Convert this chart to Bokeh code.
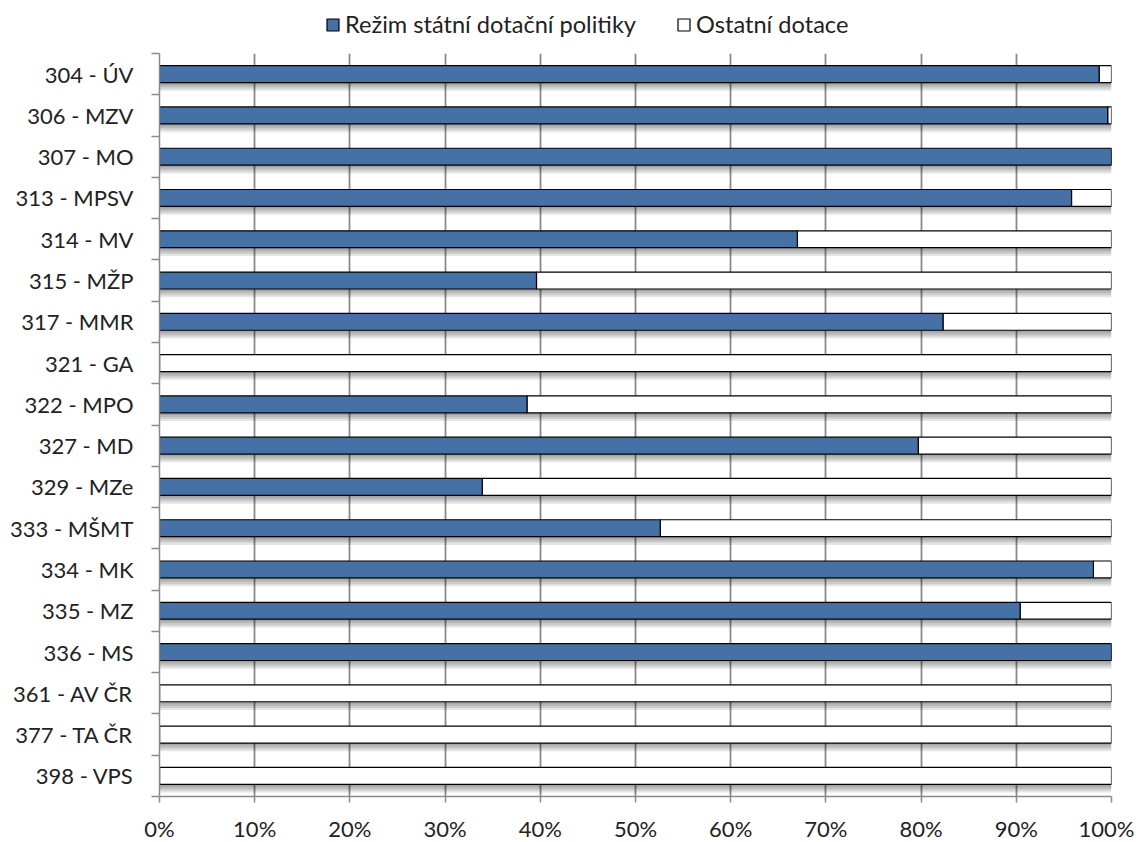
from bokeh.plotting import figure
from bokeh.layouts import column
from bokeh.models import (ColumnDataSource, Range1d, FixedTicker, Legend, LegendItem,
                          PrintfTickFormatter)
from bokeh.transform import dodge
from bokeh.embed import file_html
from bokeh.resources import INLINE

categories = ["304 - ÚV", "306 - MZV", "307 - MO", "313 - MPSV", "314 - MV", "315 - MŽP",
              "317 - MMR", "321 - GA", "322 - MPO", "327 - MD", "329 - MZe", "333 - MŠMT",
              "334 - MK", "335 - MZ", "336 - MS", "361 - AV ČR", "377 - TA ČR", "398 - VPS"]
state_pct = [98.7, 99.6, 100.0, 95.8, 67.0, 39.6, 82.3, 0.0, 38.6, 79.7, 33.9, 52.6,
             98.1, 90.4, 100.0, 0.0, 0.0, 0.0]
series_names = ["Režim státní dotační politiky", "Ostatní dotace"]
series_colors = ["#4571A7", "#FFFFFF"]
x_ticks = [0, 10, 20, 30, 40, 50, 60, 70, 80, 90, 100]

FONT = "Lato"
n = len(categories)
pos = list(range(1, n + 1))
bounds = [0.5 + i for i in range(n + 1)]

src = ColumnDataSource(dict(
    y=pos,
    zero=[0.0] * n,
    state=state_pct,
    total=[100.0] * n,
))

W = 1134

p = figure(frame_width=952, frame_height=743, output_backend="svg", toolbar_location=None,
           x_range=Range1d(0, 100), y_range=Range1d(n + 0.5, 0.5),
           min_border_left=159, min_border_right=23, min_border_top=7, min_border_bottom=40)
p.outline_line_color = None
p.background_fill_color = "white"

bar_h = 0.41
# soft shadow under each bar
for off in [0.05, 0.1, 0.15, 0.2]:
    p.hbar(y=dodge("y", off), left="zero", right="total", height=bar_h, source=src,
           fill_color="black", fill_alpha=0.1, line_color=None)

r_other = p.hbar(y="y", left="state", right="total", height=bar_h, source=src,
                 fill_color=series_colors[1], line_color="black", line_width=1.2)
r_state = p.hbar(y="y", left="zero", right="state", height=bar_h, source=src,
                 fill_color=series_colors[0], line_color="black", line_width=1.2)

# grid
p.xgrid.ticker = FixedTicker(ticks=x_ticks)
p.xgrid.grid_line_color = "#8a8a8a"
p.xgrid.grid_line_width = 1.8
p.ygrid.grid_line_color = None

# x axis
xa = p.xaxis[0]
xa.ticker = FixedTicker(ticks=x_ticks)
xa.formatter = PrintfTickFormatter(format="%d%%")
xa.axis_line_color = "#8a8a8a"
xa.axis_line_width = 1.5
xa.major_tick_line_color = "#8a8a8a"
xa.major_tick_line_width = 1.5
xa.major_tick_out = 6
xa.major_tick_in = 0
xa.minor_tick_line_color = None
xa.major_label_standoff = 12
xa.major_label_text_font = FONT
xa.major_label_text_font_size = "22px"
xa.major_label_text_color = "#222222"

# y axis
ya = p.yaxis[0]
ya.ticker = FixedTicker(ticks=pos, minor_ticks=bounds)
ya.major_label_overrides = {i: c for i, c in zip(pos, categories)}
ya.axis_line_color = "#8a8a8a"
ya.axis_line_width = 1.5
ya.major_tick_line_color = None
ya.major_tick_out = 0
ya.major_tick_in = 0
ya.minor_tick_line_color = "#8a8a8a"
ya.minor_tick_line_width = 1.5
ya.minor_tick_out = 8
ya.minor_tick_in = 0
ya.major_label_standoff = 18
ya.major_label_text_font = FONT
ya.major_label_text_font_size = "22px"
ya.major_label_text_color = "#222222"

# legend strip above the chart (key renderers share the data but are hidden)
lf = figure(width=W, height=46, output_backend="svg", toolbar_location=None,
            x_range=Range1d(0, 100), y_range=Range1d(n + 0.5, 0.5), min_border=0)
lf.axis.visible = False
lf.grid.grid_line_color = None
lf.outline_line_color = None
key_state = lf.hbar(y="y", left="zero", right="state", height=bar_h, source=src,
                    fill_color=series_colors[0], line_color="black", line_width=1.2,
                    visible=False)
key_other = lf.hbar(y="y", left="state", right="total", height=bar_h, source=src,
                    fill_color=series_colors[1], line_color="black", line_width=1.2,
                    visible=False)
legend = Legend(items=[LegendItem(label=series_names[0], renderers=[key_state]),
                       LegendItem(label=series_names[1], renderers=[key_other])],
                orientation="horizontal", location=(166, 8))
legend.padding = 0
legend.margin = 0
legend.spacing = 40
legend.glyph_width = 15
legend.glyph_height = 15
legend.label_standoff = 5
legend.label_text_font = FONT
legend.label_text_font_size = "23.6px"
legend.label_text_color = "#222222"
legend.border_line_color = None
legend.background_fill_alpha = 0
legend.inactive_fill_alpha = 0
lf.add_layout(legend, "center")

layout = column(lf, p, spacing=0)
open("out.html", "w").write(file_html(layout, INLINE))
